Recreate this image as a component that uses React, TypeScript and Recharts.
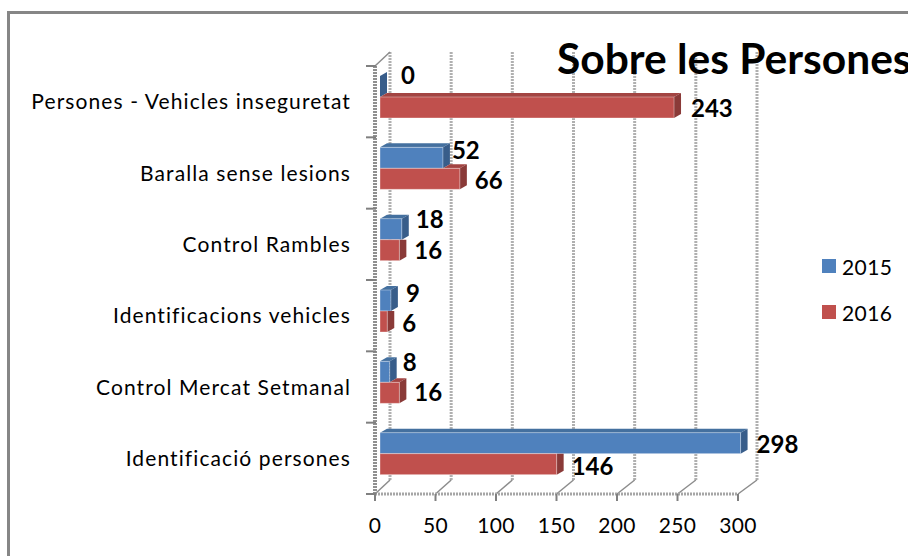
import { BarChart, Bar, XAxis, YAxis, CartesianGrid, LabelList, Legend } from 'recharts'

const categories = [
  'Persones - Vehicles inseguretat',
  'Baralla sense lesions',
  'Control Rambles',
  'Identificacions vehicles',
  'Control Mercat Setmanal',
  'Identificació persones',
]
const values2015 = [0, 52, 18, 9, 8, 298]
const values2016 = [243, 66, 16, 6, 16, 146]
const xTicks = [0, 50, 100, 150, 200, 250, 300]

// hand placed label offsets [dx, dy], the original labels are not regular
const nudge2015 = [[6, -5], [-6, -1], [-1, -4], [0, -1], [-2, -3], [1, 7]]
const nudge2016 = [[2, -1], [0, 0], [0, -2], [0, 0], [0, -2], [0, 0]]

const data = categories.map((name, i) => ({ name, y2015: values2015[i], y2016: values2016[i] }))

const FONT = 'Lato, "Open Sans", sans-serif'
const SHIFT = 5
const SIDE_W = 7
const TOP_H = 4
const PLOT_TOP = 66
const PLOT_H = 428
const BAND = PLOT_H / categories.length

// front face sits a little into the box, so shift every bar by the same amount
function Bar3D({ x, y, width, height, fill, side, top, lower, payload }: any) {
  const x0 = x + SHIFT
  const y0 = y - SHIFT
  const end = x0 + width
  let faceStart = x0
  let covered = false
  if (lower && payload.y2016 > 0) {
    const blueEnd = x0 + payload.y2015 * (width / payload.y2016)
    faceStart = Math.max(x0, blueEnd)
    covered = blueEnd > end
  }
  const sideTop = covered ? y0 : y0 - TOP_H
  return (
    <g>
      {!covered && (
        <polygon
          points={`${faceStart},${y0} ${end},${y0} ${end + SIDE_W},${y0 - TOP_H} ${faceStart + SIDE_W},${y0 - TOP_H}`}
          fill={top}
        />
      )}
      <polygon
        points={`${end},${y0} ${end + SIDE_W},${sideTop} ${end + SIDE_W},${y0 + height - TOP_H} ${end},${y0 + height}`}
        fill={side}
      />
      {width > 0 && (
        <rect x={x0} y={y0} width={width} height={height} fill={fill} stroke="#fff" strokeOpacity={0.35} strokeWidth={1} />
      )}
    </g>
  )
}

function ValueLabel({ x, y, width, height, value, dy, nudge, index }: any) {
  const [nx, ny] = nudge[index]
  return (
    <text
      x={x + width + 20 + nx}
      y={y + height / 2 - SHIFT + dy + ny}
      dominantBaseline="central"
      fontFamily={FONT}
      fontWeight={700}
      fontSize={24}
      fill="#000"
    >
      {value}
    </text>
  )
}

function GridLine({ x1, y1, y2 }: any) {
  const bx = x1 + 15 + (x1 - 375) * 0.011
  return (
    <g fill="none">
      <line x1={bx} y1={y1 - 14} x2={bx} y2={y2 - 14} stroke="#b0b0b0" strokeWidth={3} strokeDasharray="2 1" />
      <line x1={x1} y1={y2} x2={bx} y2={y2 - 14} stroke="#8c8c8c" strokeWidth={1.5} />
      {x1 === 375 && <line x1={x1} y1={y1} x2={bx} y2={y1 - 14} stroke="#8c8c8c" strokeWidth={1.5} />}
    </g>
  )
}

// category ticks sit between the bands here, so the tick lines are drawn by hand
function CategoryTick({ x, y, payload, index }: any) {
  const last = index === categories.length - 1
  const mark = (ty: number) => (
    <line x1={x + 15} y1={ty} x2={x + 25} y2={ty} stroke="#808080" strokeWidth={2} />
  )
  return (
    <g>
      {mark(y - BAND / 2)}
      {last && mark(y + BAND / 2)}
      <text x={x} y={y - 1} textAnchor="end" dominantBaseline="central" fontSize={21} fontFamily={FONT} letterSpacing={1.1} fill="#000">
        {payload.value}
      </text>
    </g>
  )
}

function LegendBox({ payload }: any) {
  return (
    <div style={{ fontFamily: FONT, fontSize: 21, color: '#000', letterSpacing: 0.4 }}>
      {payload.map((p: any) => (
        <div key={p.value} style={{ display: 'flex', alignItems: 'center', height: 46 }}>
          <span style={{ width: 14, height: 14, background: p.color, marginRight: 6 }} />
          {p.value}
        </div>
      ))}
    </div>
  )
}

export default function App() {
  return (
    <div style={{ position: 'absolute', left: 0, top: 0, width: 908, height: 556, overflow: 'hidden', background: '#fff' }}>
      <div style={{ position: 'absolute', left: 7, top: 11, width: 920, height: 560, borderTop: '3px solid #868686', borderLeft: '3px solid #868686' }} />
      <div style={{ position: 'absolute', left: 0, top: 0 }}>
        <BarChart
          width={908}
          height={556}
          data={data}
          layout="vertical"
          barSize={21}
          barGap={0}
          margin={{ top: PLOT_TOP, right: 170, bottom: 0, left: 0 }}
        >
          <CartesianGrid horizontal={false} vertical={(p: any) => <GridLine key={p.key} {...p} />} />
          <XAxis
            type="number"
            domain={[0, 300]}
            ticks={xTicks}
            height={62}
            tickSize={7}
            tickMargin={17}
            tick={{ fontSize: 21, fill: '#000', fontFamily: FONT, letterSpacing: 0.4 }}
            tickLine={{ stroke: '#808080', strokeWidth: 2 }}
            axisLine={{ stroke: '#a6a6a6', strokeWidth: 3, strokeDasharray: '2 1' }}
          />
          <YAxis
            type="category"
            dataKey="name"
            width={375}
            tickLine={false}
            tickMargin={18}
            tick={CategoryTick}
            axisLine={{ stroke: '#909090', strokeWidth: 4, strokeDasharray: '2 1' }}
          />
          <Legend
            layout="vertical"
            content={<LegendBox />}
            wrapperStyle={{ position: 'absolute', left: 822, top: 243, width: 80, height: 0, bottom: 'auto', right: 'auto' }}
          />
          <Bar dataKey="y2015" name="2015" fill="#4f81bd" isAnimationActive={false}
            shape={(p: any) => <Bar3D {...p} side="#385d8a" top="#44709f" />}>
            <LabelList dataKey="y2015" content={(p: any) => <ValueLabel {...p} dy={-7} nudge={nudge2015} />} />
          </Bar>
          <Bar dataKey="y2016" name="2016" fill="#c0504d" isAnimationActive={false}
            shape={(p: any) => <Bar3D {...p} side="#8a3a38" top="#a34442" lower />}>
            <LabelList dataKey="y2016" content={(p: any) => <ValueLabel {...p} dy={1} nudge={nudge2016} />} />
          </Bar>
          <text x={557} y={74} fontFamily={FONT} fontWeight={700} fontSize={42.5} fill="#000">
            Sobre les Persones
          </text>
        </BarChart>
      </div>
    </div>
  )
}
